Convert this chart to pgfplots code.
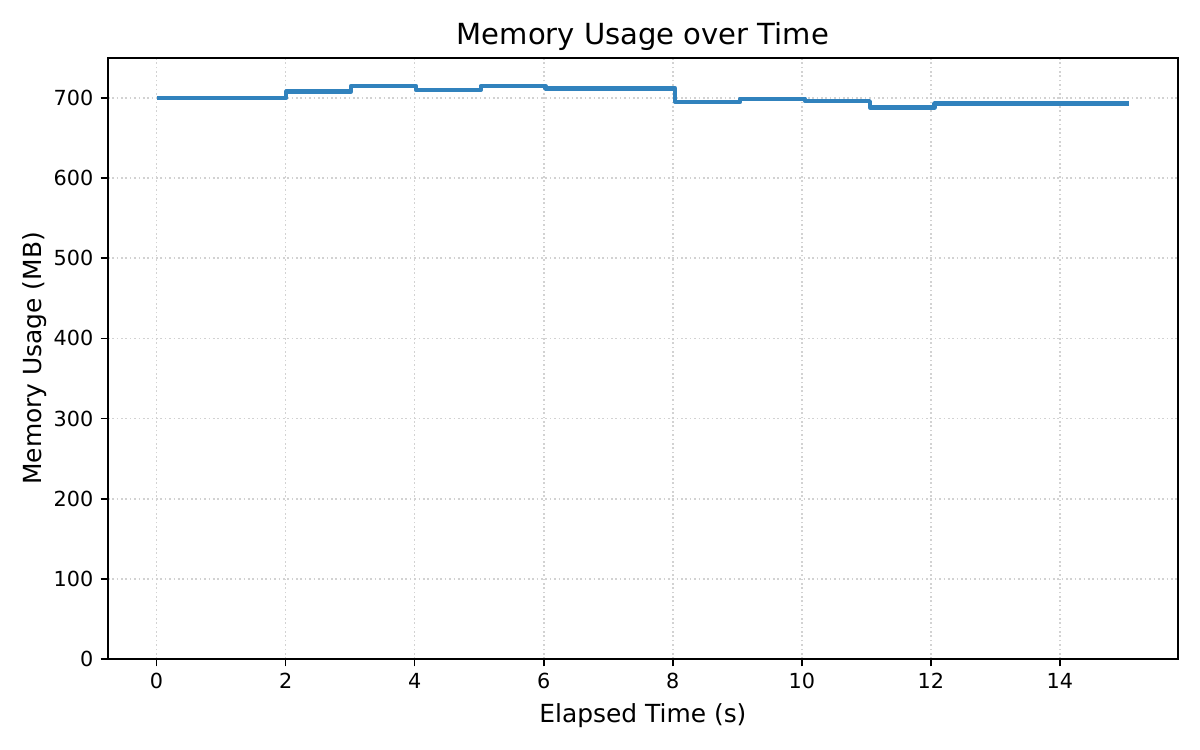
\documentclass[border=0pt]{standalone}
\usepackage{fontspec}
\setmainfont{DejaVu Sans}
\usepackage{pgfplots}
\pgfplotsset{compat=1.18}
\usetikzlibrary{calc}
\definecolor{lineblue}{RGB}{49,130,189}
\begin{document}
\begin{tikzpicture}
\begin{axis}[
    name=ax,
    scale only axis,
    width=513.6bp, height=288.5bp,
    xmin=-0.754, xmax=15.83,
    ymin=0, ymax=750,
    xtick={0,2,4,6,8,10,12,14},
    ytick={0,100,200,300,400,500,600,700},
    tick align=outside,
    tick pos=left,
    major tick length=3.5bp,
    every tick/.style={black, line width=0.8bp},
    axis line style={line width=0.8bp},
    grid=major,
    major grid style={gray!35, line width=0.8bp, dash pattern=on 0.8bp off 1.3bp},
    tick label style={font=\fontsize{10}{12}\selectfont},
    /pgf/number format/assume math mode=true,
    xlabel={Elapsed Time (s)},
    ylabel={Memory Usage (MB)},
    label style={font=\fontsize{12}{14}\selectfont},
    ylabel style={xshift=0bp, yshift=-3.4bp},
    title={Memory Usage over Time},
    title style={font=\fontsize{14}{16}\selectfont, yshift=-5.8bp},
]
\addplot[const plot, color=lineblue, line width=2.1bp, line join=round] coordinates {
    (0.000,700)
    (1.005,700)
    (2.010,708)
    (3.015,715)
    (4.020,710)
    (5.025,715)
    (6.030,712)
    (7.035,712)
    (8.040,695)
    (9.045,699)
    (10.050,696)
    (11.055,688)
    (12.060,693)
    (13.065,693)
    (14.070,693)
    (15.075,693)
};
\end{axis}
\pgfresetboundingbox
\path[use as bounding box] ($(ax.south west)+(-51.8bp,-43.7bp)$) rectangle ($(ax.north east)+(10.6bp,27.8bp)$);
\end{tikzpicture}
\end{document}
